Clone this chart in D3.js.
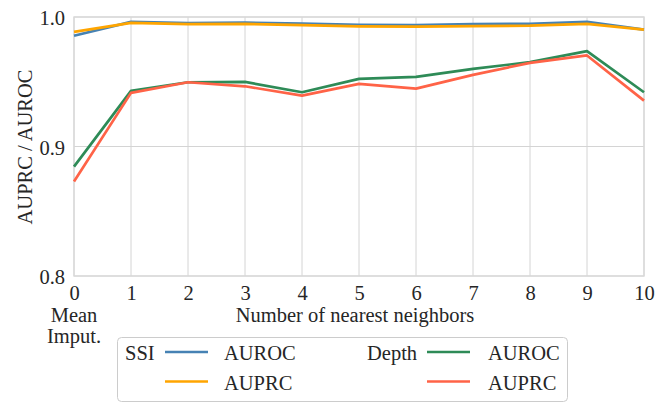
<!DOCTYPE html>
<html><head><meta charset="utf-8">
<script src="https://cdn.jsdelivr.net/npm/d3@7"></script>
<style>body{margin:0;background:#fff}svg{display:block}</style>
</head><body><svg id="c" width="669" height="407"></svg>
<script>
const neighbors = [0,1,2,3,4,5,6,7,8,9,10];
const ssiAUROC   = [0.9855,0.9962,0.9953,0.9956,0.9950,0.9940,0.9937,0.9946,0.9948,0.9962,0.9903];
const ssiAUPRC   = [0.9885,0.9955,0.9945,0.9947,0.9938,0.9928,0.9925,0.9930,0.9933,0.9947,0.9903];
const depthAUROC = [0.8845,0.9430,0.9496,0.9499,0.9419,0.9522,0.9538,0.9600,0.9651,0.9736,0.9419];
const depthAUPRC = [0.8730,0.9414,0.9496,0.9465,0.9393,0.9484,0.9447,0.9553,0.9646,0.9703,0.9354];
const yTicks = [0.8,0.9,1.0];
const series = [
  {name:"SSI AUROC", values:ssiAUROC, color:"#4682b4"},
  {name:"SSI AUPRC", values:ssiAUPRC, color:"#ffa500"},
  {name:"Depth AUROC", values:depthAUROC, color:"#2e8b57"},
  {name:"Depth AUPRC", values:depthAUPRC, color:"#ff6347"}
];
const FONT = "'Liberation Serif', 'Times New Roman', 'DejaVu Serif', Lato, sans-serif";
const FS = 20.5;

const svg = d3.select("#c").attr("font-family",FONT);
const L=74, R=644, T=17, B=276;
const x = d3.scaleLinear().domain([0,10]).range([L,R]);
const y = d3.scaleLinear().domain([0.8,1.0]).range([B,T]);
const grid="#d4d4d4";

svg.append("g").selectAll("line").data(neighbors).join("line")
  .attr("x1",d=>x(d)).attr("x2",d=>x(d)).attr("y1",T).attr("y2",B)
  .attr("stroke",grid).attr("stroke-width",1);
svg.append("g").selectAll("line").data(yTicks).join("line")
  .attr("x1",L).attr("x2",R).attr("y1",d=>y(d)).attr("y2",d=>y(d))
  .attr("stroke",grid).attr("stroke-width",1.2);
svg.append("rect").attr("x",L).attr("y",T).attr("width",R-L).attr("height",B-T)
  .attr("fill","none").attr("stroke","#d9d9d9").attr("stroke-width",1.4);

const xa = svg.append("g").attr("transform",`translate(0,${B})`)
  .call(d3.axisBottom(x).tickValues(neighbors).tickFormat(d3.format("d")).tickSize(0));
xa.attr("font-family",FONT);
xa.select(".domain").remove();
xa.selectAll("text").attr("font-size",FS).attr("fill","#262626").attr("y",24).attr("dy",0);
const ya = svg.append("g").attr("transform",`translate(${L},0)`)
  .call(d3.axisLeft(y).tickValues(yTicks).tickFormat(d3.format(".1f")).tickSize(0).tickPadding(9));
ya.attr("font-family",FONT);
ya.select(".domain").remove();
ya.selectAll("text").attr("font-size",FS).attr("fill","#262626").attr("dy",0).attr("y",7.5);

const line = d3.line().x((d,i)=>x(neighbors[i])).y(d=>y(d));
svg.append("g").selectAll("path").data(series).join("path")
  .attr("d",d=>line(d.values)).attr("fill","none")
  .attr("stroke",d=>d.color).attr("stroke-width",2.7).attr("stroke-linejoin","round");

function txt(g,xp,yp,s,anchor){return g.append("text").attr("x",xp).attr("y",yp).attr("text-anchor",anchor||"start").attr("font-size",FS).attr("fill","#262626").attr("font-family",FONT).text(s);}
txt(svg,355,322,"Number of nearest neighbors","middle");
txt(svg,74,322,"Mean","middle");
txt(svg,74,343,"Imput.","middle");
svg.append("text").attr("transform",`translate(32,147) rotate(-90)`).attr("text-anchor","middle").attr("font-size",FS).attr("fill","#262626").attr("font-family",FONT).text("AUPRC / AUROC");

const lg = svg.append("g");
lg.append("rect").attr("x",117.5).attr("y",337.5).attr("width",450).attr("height",64).attr("rx",4)
  .attr("fill","#fff").attr("stroke","#cccccc").attr("stroke-width",1);
const legItems = [
  {group:"SSI", gx:125, lx:165, tx:224, row:0, s:series[0], label:"AUROC"},
  {group:"", gx:125, lx:165, tx:224, row:1, s:series[1], label:"AUPRC"},
  {group:"Depth", gx:367, lx:427, tx:488, row:0, s:series[2], label:"AUROC"},
  {group:"", gx:367, lx:427, tx:488, row:1, s:series[3], label:"AUPRC"}
];
legItems.forEach(it=>{
  const cy = 352 + it.row*29.5;
  const base = 360 + it.row*30;
  if(it.group) txt(lg,it.gx,base,it.group);
  lg.append("line").attr("x1",it.lx).attr("x2",it.lx+43).attr("y1",cy).attr("y2",cy)
    .attr("stroke",it.s.color).attr("stroke-width",2.7);
  txt(lg,it.tx,base,it.label);
});
</script></body></html>
